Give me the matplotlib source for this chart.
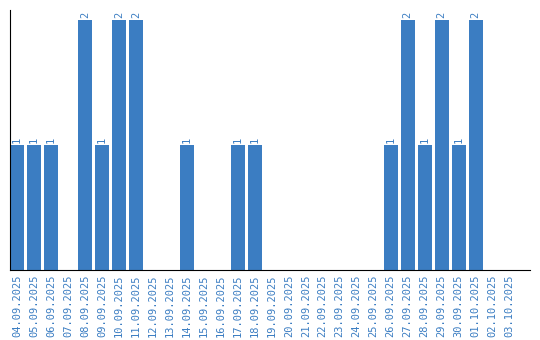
import matplotlib
matplotlib.use("Agg")
import matplotlib.pyplot as plt

dates = ["04.09.2025", "05.09.2025", "06.09.2025", "07.09.2025", "08.09.2025",
         "09.09.2025", "10.09.2025", "11.09.2025", "12.09.2025", "13.09.2025",
         "14.09.2025", "15.09.2025", "16.09.2025", "17.09.2025", "18.09.2025",
         "19.09.2025", "20.09.2025", "21.09.2025", "22.09.2025", "23.09.2025",
         "24.09.2025", "25.09.2025", "26.09.2025", "27.09.2025", "28.09.2025",
         "29.09.2025", "30.09.2025", "01.10.2025", "02.10.2025", "03.10.2025"]
counts = [1, 1, 1, 0, 2, 1, 2, 2, 0, 0,
          1, 0, 0, 1, 1, 0, 0, 0, 0, 0,
          0, 0, 1, 2, 1, 2, 1, 2, 0, 0]

blue = "#3b7dc2"
fig = plt.figure(figsize=(5.4, 3.4), dpi=100)
ax = fig.add_axes([10/540, 70/340, 520/540, 260/340])
x = list(range(len(dates)))
bars = ax.bar(x, counts, width=0.82, color=blue)
for xi, v in zip(x, counts):
    if v > 0:
        ax.text(xi, v + 0.02, str(v), rotation=90, ha="center", va="bottom",
                color=blue, fontsize=7.5, family="DejaVu Sans Mono")
ax.set_xlim(-0.41, 30.2)
ax.set_ylim(0, 2.08)
ax.set_xticks(x)
ax.set_xticklabels(dates, rotation=90, color=blue, fontsize=7.5, family="DejaVu Sans Mono")
ax.tick_params(axis="x", length=0, pad=3)
ax.set_yticks([])
for s in ["top", "right"]:
    ax.spines[s].set_visible(False)
ax.spines["left"].set_color("black")
ax.spines["bottom"].set_color("black")
fig.savefig("out.png", dpi=100)
